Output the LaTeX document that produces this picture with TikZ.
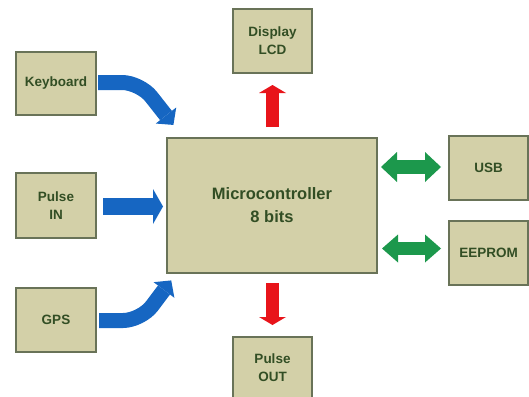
\documentclass[tikz,border=0pt]{standalone}
\usepackage{fontspec}
\setmainfont{Liberation Sans}
\usetikzlibrary{calc}
\definecolor{boxfill}{RGB}{211,208,168}
\definecolor{boxdraw}{RGB}{105,115,88}
\definecolor{txt}{RGB}{50,78,36}
\definecolor{arrblue}{RGB}{22,102,194}
\definecolor{arrred}{RGB}{232,20,26}
\definecolor{arrgreen}{RGB}{28,152,76}
\newcommand\ahead[5]{\fill[#5] ($(#2)!#3!90:(#1)$) -- ($(#2)!#3!-90:(#1)$) -- ($(#2)!-#4!(#1)$) -- cycle;}
\begin{document}
\begin{tikzpicture}[x=1pt,y=-1pt,
  box/.style={draw=boxdraw, fill=boxfill, line width=1.2pt, minimum width=80pt, minimum height=64pt,
    inner sep=0pt, align=center, font=\fontsize{13.5}{18}\selectfont\bfseries, text=txt},
  bigbox/.style={box, minimum width=210pt, minimum height=135pt, font=\fontsize{16.5}{23}\selectfont\bfseries},
  bluearr/.style={draw=arrblue, line width=15pt},
  redarr/.style={draw=arrred, line width=13pt},
  greenarr/.style={draw=arrgreen, line width=13.5pt}]
\useasboundingbox (0,0) rectangle (529,396);
\clip (0,0) rectangle (529,396);
\fill[white] (0,0) rectangle (529,396);

\node[box, minimum height=63pt] (kb) at (56,83.5) {Keyboard};
\node[box, minimum height=65pt] (pin) at (56,205.5) {Pulse\\IN};
\node[box] (gps) at (56,320) {GPS};
\node[box, minimum width=79pt] (lcd) at (272.5,41) {Display\\LCD};
\node[box, minimum width=79pt, minimum height=62pt] (pout) at (272.5,368) {Pulse\\OUT};
\node[bigbox] (mc) at (272,205.5) {Microcontroller\\8 bits};
\node[box, minimum width=79pt] (usb) at (488.5,168) {USB};
\node[box, minimum width=79pt] (eep) at (488.5,253) {EEPROM};

% Keyboard -> MC
\coordinate (kb1) at (98,82.5);
\coordinate (kb2) at (140,82.5);
\coordinate (kb3) at (166,115.5);
\draw[bluearr, rounded corners=18pt] (kb1) -- (kb2) -- (kb3);
\ahead{kb2}{kb3}{13pt}{12pt}{arrblue}

% Pulse IN -> MC
\coordinate (pi1) at (103,206.5);
\coordinate (pi2) at (153,206.5);
\draw[draw=arrblue, line width=17pt] (pi1) -- (pi2);
\ahead{pi1}{pi2}{17.5pt}{10pt}{arrblue}

% GPS -> MC
\coordinate (gp1) at (99,320.5);
\coordinate (gp2) at (141,320.5);
\coordinate (gp3) at (164,290);
\draw[bluearr, rounded corners=18pt] (gp1) -- (gp2) -- (gp3);
\ahead{gp2}{gp3}{13pt}{12pt}{arrblue}

% MC -> LCD
\coordinate (ru1) at (272.5,127);
\coordinate (ru2) at (272.5,93);
\draw[redarr] (ru1) -- (ru2);
\ahead{ru1}{ru2}{13.5pt}{8pt}{arrred}

% MC -> Pulse OUT
\coordinate (rd1) at (272.5,283);
\coordinate (rd2) at (272.5,317);
\draw[redarr] (rd1) -- (rd2);
\ahead{rd1}{rd2}{13.5pt}{8pt}{arrred}

% MC <-> USB
\coordinate (gu1) at (397,167);
\coordinate (gu2) at (425,167);
\draw[greenarr] (gu1) -- (gu2);
\ahead{gu2}{gu1}{15pt}{16pt}{arrgreen}
\ahead{gu1}{gu2}{15pt}{16pt}{arrgreen}

% MC <-> EEPROM
\coordinate (ge1) at (398,248.5);
\coordinate (ge2) at (425,248.5);
\draw[greenarr] (ge1) -- (ge2);
\ahead{ge2}{ge1}{14pt}{16pt}{arrgreen}
\ahead{ge1}{ge2}{14pt}{16pt}{arrgreen}
\end{tikzpicture}
\end{document}
